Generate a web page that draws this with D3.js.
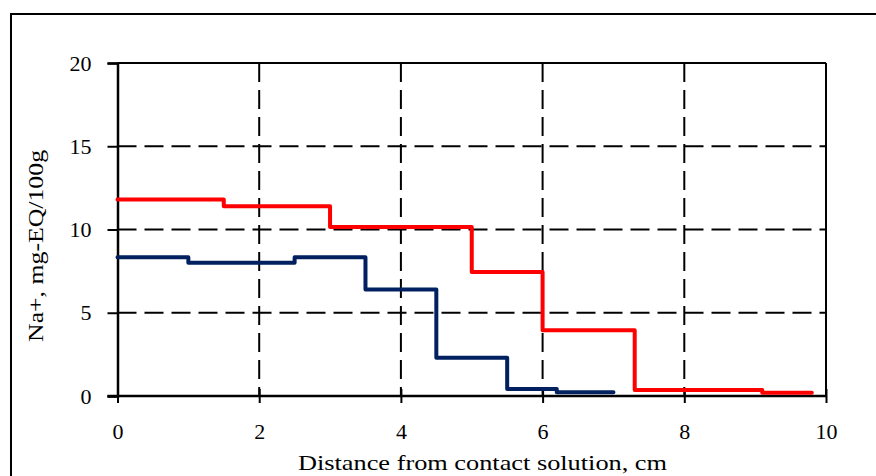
<!DOCTYPE html>
<html>
<head>
<meta charset="utf-8">
<script src="https://cdn.jsdelivr.net/npm/d3@7"></script>
<style>
  html, body { margin: 0; padding: 0; background: #fff; }
  text { font-family: "Liberation Serif", serif; fill: #000; }
</style>
</head>
<body>
<div id="chart"></div>
<script>
// step edges (cm) and levels between them
var redEdges = [0, 1.5, 3.0, 5.0, 6.0, 7.3, 9.1, 9.8];
var redLevels = [11.8, 11.4, 10.15, 7.45, 3.95, 0.36, 0.2];

var blueEdges = [0, 1.0, 2.5, 3.5, 4.5, 5.5, 6.2, 7.0];
var blueLevels = [8.33, 8.0, 8.33, 6.4, 2.3, 0.42, 0.22];

var xTicks = [0, 2, 4, 6, 8, 10];
var yTicks = [0, 5, 10, 15, 20];

var xTitle = 'Distance from contact solution, cm';
var yTitle = 'Na+, mg-EQ/100g';

var W = 876, H = 476;
var margin = { top: 63, right: 50, bottom: 80, left: 117.5 };
var fontFam = '"Liberation Serif", serif';

var svg = d3.select('#chart').append('svg')
    .attr('width', W).attr('height', H);

// outer frame (runs off the bottom/right edge like the original)
svg.append('rect')
    .attr('x', 11).attr('y', 14)
    .attr('width', W + 20).attr('height', H + 20)
    .attr('fill', 'none').attr('stroke', '#000').attr('stroke-width', 2);

var x = d3.scaleLinear().domain([0, 10]).range([margin.left, 826]);
var y = d3.scaleLinear().domain([0, 20]).range([396, margin.top]);

// grid
var grid = svg.append('g').attr('stroke', '#000').attr('stroke-width', 2)
    .attr('stroke-dasharray', '19,8');
grid.selectAll('.hg').data(yTicks.filter(function (d) { return d > 0 && d < 20; }))
    .enter().append('line')
    .attr('x1', x(0)).attr('x2', x(10))
    .attr('y1', function (d) { return y(d); }).attr('y2', function (d) { return y(d); });
grid.selectAll('.vg').data(xTicks.filter(function (d) { return d > 0 && d < 10; }))
    .enter().append('line')
    .attr('y1', y(20)).attr('y2', y(0))
    .attr('x1', function (d) { return x(d); }).attr('x2', function (d) { return x(d); });

// frame top and right
svg.append('line').attr('x1', x(0)).attr('x2', x(10)).attr('y1', y(20)).attr('y2', y(20))
    .attr('stroke', '#000').attr('stroke-width', 2);
svg.append('line').attr('x1', x(10)).attr('x2', x(10)).attr('y1', y(20)).attr('y2', y(0))
    .attr('stroke', '#000').attr('stroke-width', 2);

// axes
var yAxis = svg.append('g')
    .attr('transform', 'translate(' + x(0) + ',0)')
    .call(d3.axisLeft(y).tickValues(yTicks).tickSize(10).tickPadding(16));
var xAxis = svg.append('g')
    .attr('transform', 'translate(0,' + y(0) + ')')
    .call(d3.axisBottom(x).tickValues(xTicks).tickSize(7).tickPadding(22));

[yAxis, xAxis].forEach(function (a) {
    a.select('.domain').attr('stroke-width', 2.5).attr('stroke', '#000');
    a.selectAll('.tick line').attr('stroke-width', 2).attr('stroke', '#000');
    a.selectAll('.tick text').style('font-size', '22px')
        .style('font-family', fontFam)
        .attr('fill', '#000');
});
// x ticks cross the axis
xAxis.selectAll('.tick line').attr('y1', -7).attr('y2', 7);
xAxis.selectAll('.tick text').attr('y', 22).attr('dy', '0.95em');
// axis line extends left under y ticks
xAxis.select('.domain').attr('d', 'M' + (x(0) - 10) + ',0H' + x(10));

// step series
function stepPoints(edges, levels) {
    return edges.map(function (e, i) {
        return [e, levels[Math.min(i, levels.length - 1)]];
    });
}
var line = d3.line()
    .x(function (d) { return x(d[0]); })
    .y(function (d) { return y(d[1]); })
    .curve(d3.curveStepAfter);

svg.append('path').datum(stepPoints(redEdges, redLevels))
    .attr('d', line).attr('fill', 'none')
    .attr('stroke', '#ff0000').attr('stroke-width', 4)
    .attr('stroke-linejoin', 'round').attr('stroke-linecap', 'round');
svg.append('path').datum(stepPoints(blueEdges, blueLevels))
    .attr('d', line).attr('fill', 'none')
    .attr('stroke', '#002060').attr('stroke-width', 4)
    .attr('stroke-linejoin', 'round').attr('stroke-linecap', 'round');

// titles
svg.append('text')
    .attr('x', 482.5).attr('y', 469.5)
    .attr('text-anchor', 'middle')
    .attr('textLength', 369).attr('lengthAdjust', 'spacingAndGlyphs')
    .style('font-size', '22px')
    .text(xTitle);
svg.append('text')
    .attr('transform', 'translate(43,246) rotate(-90)')
    .attr('text-anchor', 'middle')
    .attr('textLength', 192).attr('lengthAdjust', 'spacingAndGlyphs')
    .style('font-size', '22px')
    .text(yTitle);
</script>
</body>
</html>
